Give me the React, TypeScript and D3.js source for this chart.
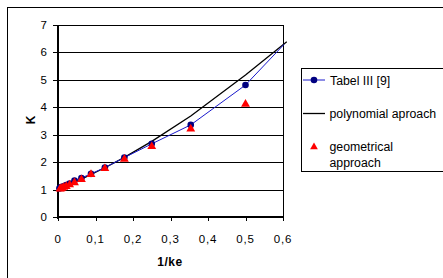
import React from "react";
import * as d3 from "d3";

const tabelX = [0.0039, 0.0055, 0.0078, 0.011, 0.0156, 0.022, 0.031, 0.044, 0.0625, 0.088, 0.125, 0.177, 0.25, 0.354, 0.5];
const tabelK = [1.04, 1.06, 1.08, 1.1, 1.12, 1.16, 1.22, 1.33, 1.42, 1.57, 1.8, 2.16, 2.66, 3.35, 4.8];
const tabelEndX = [0.603];
const tabelEndK = [6.28];

const polyX = [0, 0.0078, 0.0156, 0.031, 0.0625, 0.125, 0.177, 0.25, 0.354, 0.5, 0.61];
const polyK = [1.0, 1.05, 1.09, 1.18, 1.38, 1.79, 2.17, 2.75, 3.67, 5.16, 6.37];

const geoX = [0.0055, 0.0078, 0.011, 0.0156, 0.022, 0.031, 0.044, 0.0625, 0.088, 0.125, 0.177, 0.25, 0.354, 0.5];
const geoK = [1.04, 1.05, 1.07, 1.1, 1.13, 1.19, 1.27, 1.38, 1.57, 1.78, 2.12, 2.58, 3.22, 4.12];

const xTicks = [0, 0.1, 0.2, 0.3, 0.4, 0.5, 0.6];
const xTickLabels = ["0", "0,1", "0,2", "0,3", "0,4", "0,5", "0,6"];
const yTicks = [0, 1, 2, 3, 4, 5, 6, 7];

const legendLabels = ["Tabel III [9]", "polynomial aproach", "geometrical", "approach"];

export default function App() {
  const W = 443, H = 278;
  const x = d3.scaleLinear().domain([0, 0.6]).range([58, 283]);
  const y = d3.scaleLinear().domain([0, 7]).range([217, 24.5]);
  const font = "'Liberation Sans', Arial, sans-serif";
  const line = d3.line<[number, number]>().x(d => x(d[0])).y(d => y(d[1]));
  const tabelPts: [number, number][] = tabelX.map((v, i) => [v, tabelK[i]]);
  const tabelLine: [number, number][] = tabelPts.concat(tabelEndX.map((v, i) => [v, tabelEndK[i]] as [number, number]));
  const polyPts: [number, number][] = polyX.map((v, i) => [v, polyK[i]]);
  const geoPts: [number, number][] = geoX.map((v, i) => [v, geoK[i]]);
  const tri = d3.symbol().type(d3.symbolTriangle).size(34)();
  const tri2 = d3.symbol().type(d3.symbolTriangle).size(26)();

  return (
    <svg width={W} height={H} style={{ position: "absolute", left: 0, top: 0, background: "#fff" }}>
      <rect x={7.5} y={7.5} width={500} height={400} fill="none" stroke="#000" strokeWidth={1} />
      {yTicks.filter(t => t > 0).map(t => (
        <rect key={"g" + t} x={58} y={Math.round(y(t))} width={226} height={1} fill="#000" />
      ))}
      <rect x={283} y={Math.round(y(7))} width={1} height={217 - Math.round(y(7))} fill="#000" />
      <rect x={57} y={Math.round(y(7))} width={2} height={219 - Math.round(y(7))} fill="#000" />
      {yTicks.map(t => (
        <rect key={"yt" + t} x={53} y={Math.round(y(t))} width={5} height={1} fill="#000" />
      ))}
      <rect x={57} y={216} width={227} height={2} fill="#000" />
      {xTicks.map(t => (
        <rect key={"xt" + t} x={Math.round(x(t))} y={217} width={1} height={4} fill="#000" />
      ))}
      {yTicks.map(t => (
        <text key={t} x={47} y={y(t)} dy="0.35em" textAnchor="end" fontFamily={font} fontSize={11.5}>{t}</text>
      ))}
      {xTicks.map((t, i) => (
        <text key={t} x={x(t)} y={239} dy="0.35em" textAnchor="middle" fontFamily={font} fontSize={11.5} letterSpacing={0.8}>{xTickLabels[i]}</text>
      ))}
      <text x={31} y={120} dy="0.35em" textAnchor="middle" fontFamily={font} fontSize={12} fontWeight="bold" transform="rotate(-90 31 120)">K</text>
      <text x={170} y={262} dy="0.35em" textAnchor="middle" fontFamily={font} fontSize={12} fontWeight="bold" letterSpacing={0.5}>1/ke</text>
      <path d={line(polyPts) || ""} fill="none" stroke="#000" strokeWidth={1.3} />
      <path d={line(tabelLine) || ""} fill="none" stroke="#1a1acc" strokeWidth={1} />
      {tabelPts.map((p, i) => (
        <circle key={i} cx={x(p[0])} cy={y(p[1])} r={3.3} fill="#000080" />
      ))}
      {geoPts.map((p, i) => (
        <path key={i} d={tri || ""} transform={`translate(${x(p[0])},${y(p[1]) + 0.5})`} fill="#ff0000" />
      ))}
      <rect x={301.5} y={68.5} width={200} height={103} fill="#fff" stroke="#000" strokeWidth={1} />
      <path d="M303,80H325" stroke="#1a1acc" strokeWidth={1} />
      <circle cx={314} cy={80} r={3.3} fill="#000080" />
      <text x={330} y={80.5} dy="0.35em" fontFamily={font} fontSize={12.3}>{legendLabels[0]}</text>
      <path d="M303,113.5H325" stroke="#000" strokeWidth={1.3} />
      <text x={329.5} y={113.5} dy="0.35em" fontFamily={font} fontSize={12.3}>{legendLabels[1]}</text>
      <path d={tri2 || ""} transform="translate(314,147)" fill="#ff0000" />
      <text x={329.5} y={147} dy="0.35em" fontFamily={font} fontSize={12.3}>{legendLabels[2]}</text>
      <text x={329.5} y={163} dy="0.35em" fontFamily={font} fontSize={12.3}>{legendLabels[3]}</text>
    </svg>
  );
}
